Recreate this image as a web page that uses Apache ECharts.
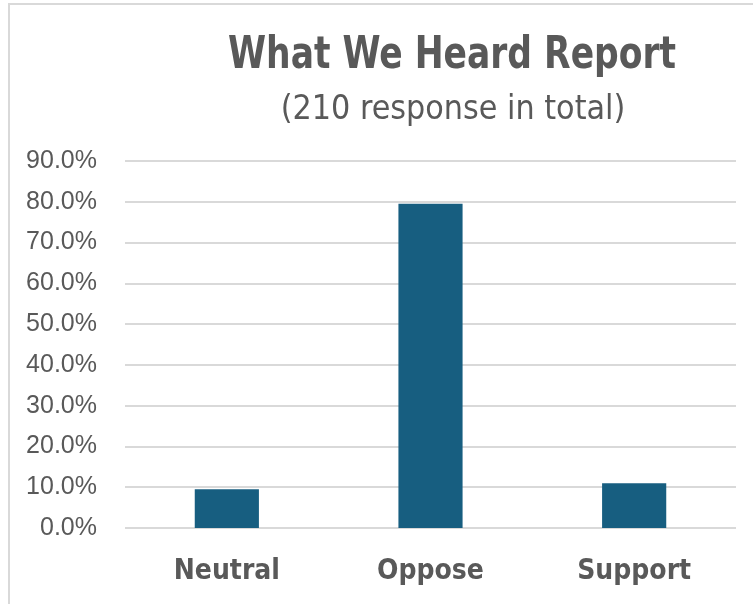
<!DOCTYPE html>
<html>
<head>
<meta charset="utf-8">
<script src="https://cdn.jsdelivr.net/npm/echarts@6/dist/echarts.min.js"></script>
<style>
html,body{margin:0;padding:0;background:#fff;}
#c{width:753px;height:604px;}
</style>
</head>
<body>
<div id="c"></div>
<script>
const categories = ['Neutral', 'Oppose', 'Support'];
const shareValues = [0.0952, 0.7952, 0.1095];
const yTicks = [0, 0.1, 0.2, 0.3, 0.4, 0.5, 0.6, 0.7, 0.8, 0.9];
const titleText = 'What We Heard Report';
const subtitleText = '(210 response in total)';

const narrow = "'Liberation Sans Narrow', 'DejaVu Sans Condensed', 'Arial Narrow', sans-serif";
const chart = echarts.init(document.getElementById('c'));
chart.setOption({
  animation: false,
  backgroundColor: '#ffffff',
  graphic: [{
    type: 'rect', silent: true,
    shape: { x: 9, y: 4, width: 800, height: 700 },
    style: { fill: 'none', stroke: '#d9d9d9', lineWidth: 2 }
  }, {
    type: 'text', silent: true,
    x: 452, y: 56, scaleX: 0.853, scaleY: 1,
    style: {
      text: titleText, align: 'center', verticalAlign: 'middle',
      fontFamily: narrow, fontWeight: 'bold', fontSize: 45, fill: '#595959'
    }
  }, {
    type: 'text', silent: true,
    x: 453, y: 110, scaleX: 0.99, scaleY: 1,
    style: {
      text: subtitleText, align: 'center', verticalAlign: 'middle',
      fontFamily: narrow, fontWeight: 'normal', fontSize: 34, fill: '#595959'
    }
  }],
  grid: { left: 125, right: 17, top: 161, bottom: 76, containLabel: false },
  xAxis: {
    type: 'category',
    data: categories,
    axisLine: { show: false },
    axisTick: { show: false },
    axisLabel: { margin: 30, fontFamily: narrow, fontWeight: 'bold', fontSize: 28, color: '#595959' }
  },
  yAxis: {
    type: 'value',
    min: yTicks[0], max: yTicks[yTicks.length - 1], interval: 0.1,
    axisLine: { show: false },
    axisTick: { show: false },
    splitLine: { lineStyle: { color: '#d9d9d9', width: 2 } },
    axisLabel: {
      margin: 28,
      fontFamily: "'Liberation Sans', Arial, sans-serif",
      fontSize: 25, color: '#595959',
      formatter: v => (v * 100).toFixed(1) + '%'
    }
  },
  series: [{
    type: 'bar',
    data: shareValues,
    barWidth: '31.5%',
    itemStyle: { color: '#175e80' }
  }]
});
</script>
</body>
</html>
